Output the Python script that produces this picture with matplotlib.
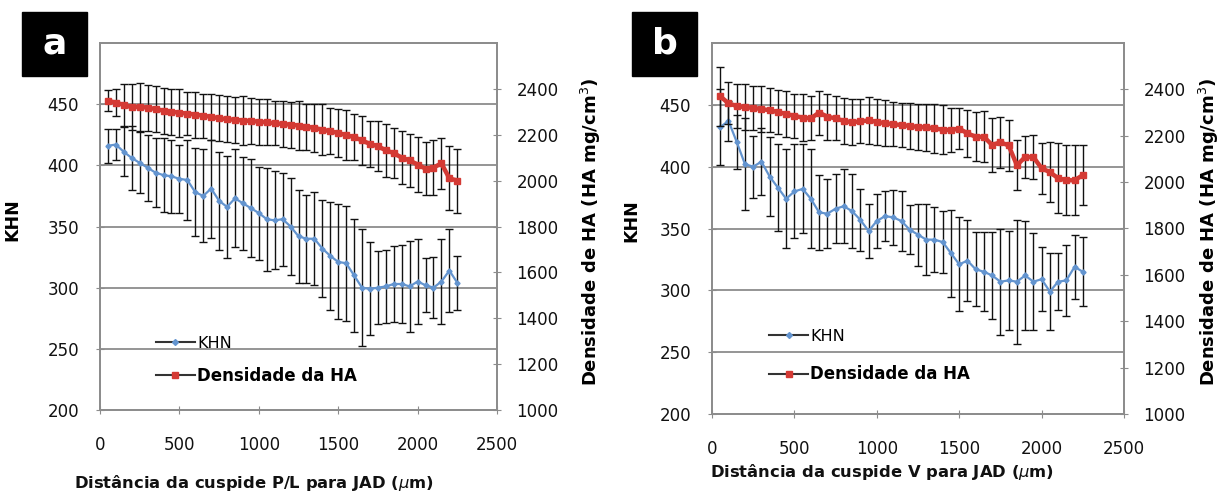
import matplotlib
matplotlib.use("Agg")
import matplotlib.pyplot as plt
from matplotlib.lines import Line2D
from matplotlib.patches import Rectangle

plt.rcParams['font.family'] = ['DejaVu Sans']

# ---------------- data ----------------
dist = [50, 100, 150, 200, 250, 300, 350, 400, 450, 500, 550, 600, 650, 700, 750,
        800, 850, 900, 950, 1000, 1050, 1100, 1150, 1200, 1250, 1300, 1350, 1400,
        1450, 1500, 1550, 1600, 1650, 1700, 1750, 1800, 1850, 1900, 1950, 2000,
        2050, 2100, 2150, 2200, 2250]

khn_a = [416, 417, 411, 406, 402, 398, 394, 392, 391, 389, 388, 378, 375, 381, 371,
         366, 373, 369, 365, 361, 356, 355, 356, 350, 342, 340, 340, 332, 326, 321,
         320, 310, 300, 299, 300, 301, 303, 303, 301, 305, 302, 300, 305, 314, 304]
khn_a_err = [14, 13, 20, 26, 25, 27, 28, 30, 30, 28, 33, 36, 38, 40, 40, 42, 40, 38,
             40, 38, 42, 40, 38, 40, 38, 36, 38, 40, 44, 47, 47, 46, 48, 38, 30, 30,
             31, 32, 37, 35, 22, 25, 35, 34, 22]
dens_a = [2348, 2340, 2330, 2320, 2322, 2318, 2312, 2305, 2300, 2296, 2292, 2288,
          2283, 2278, 2272, 2268, 2265, 2262, 2260, 2257, 2254, 2250, 2247, 2244,
          2240, 2235, 2230, 2222, 2215, 2208, 2198, 2190, 2175, 2160, 2150, 2132,
          2120, 2100, 2088, 2070, 2052, 2057, 2075, 2010, 2000]
dens_a_err = [45, 60, 90, 100, 105, 100, 100, 100, 100, 105, 95, 100, 95, 100, 100,
              100, 100, 105, 100, 100, 100, 95, 100, 100, 105, 100, 105, 110, 100,
              105, 110, 100, 105, 100, 110, 115, 110, 115, 115, 120, 115, 120, 110,
              140, 140]

khn_b = [432, 437, 420, 402, 400, 404, 392, 383, 374, 380, 382, 374, 363, 362, 366,
         368, 364, 357, 348, 356, 360, 359, 356, 349, 345, 341, 341, 339, 330, 321,
         324, 317, 315, 312, 307, 308, 307, 312, 307, 309, 299, 307, 308, 319, 315]
khn_b_err = [31, 16, 22, 37, 25, 27, 32, 35, 40, 38, 36, 40, 30, 28, 28, 30, 30, 25,
             22, 22, 20, 22, 24, 20, 25, 29, 26, 25, 35, 38, 33, 30, 32, 35, 43, 40,
             50, 44, 39, 26, 31, 23, 29, 26, 28]
dens_b = [2370, 2340, 2328, 2323, 2320, 2315, 2310, 2302, 2294, 2286, 2278, 2275,
          2300, 2282, 2275, 2264, 2258, 2262, 2266, 2260, 2254, 2250, 2246, 2242,
          2238, 2236, 2232, 2226, 2224, 2231, 2210, 2196, 2195, 2160, 2172, 2158,
          2073, 2108, 2108, 2060, 2043, 2017, 2008, 2008, 2030]
dens_b_err = [127, 90, 95, 100, 95, 100, 95, 95, 100, 95, 100, 95, 95, 100, 95, 100,
              100, 95, 100, 100, 100, 95, 95, 100, 100, 100, 105, 105, 95, 90, 100,
              105, 110, 115, 110, 110, 107, 90, 95, 110, 130, 150, 150, 150, 130]

x_ticks = [0, 500, 1000, 1500, 2000, 2500]
khn_ticks = [200, 250, 300, 350, 400, 450]
dens_ticks = [1000, 1200, 1400, 1600, 1800, 2000, 2200, 2400]

panels = [
    dict(letter="a", khn=khn_a, khn_err=khn_a_err, dens=dens_a, dens_err=dens_a_err,
         xlabel="Distância da cuspide P/L para JAD ($\\mu$m)"),
    dict(letter="b", khn=khn_b, khn_err=khn_b_err, dens=dens_b, dens_err=dens_b_err,
         xlabel="Distância da cuspide V para JAD ($\\mu$m)"),
]

# ---------------- layout ----------------
W, H = 1228, 492
fig = plt.figure(figsize=(W / 100, H / 100), dpi=100)

def fx(px):
    return px / W

def fy(py):
    return 1 - py / H

# pixel boxes: left, right, top, bottom
boxes = [(100, 497, 43, 410), (712, 1124, 43, 414)]
letter_boxes = [(22, 87, 12, 76), (632, 697, 12, 76)]
ylab_l = [(-0.197, 0.52), (-0.175, 0.52)]
ylab_r = [(1.207, 0.485), (1.177, 0.49)]
xlab_pos = [(254, 483), (882, 472)]
leg_anchor = [(0.125, 0.136), (0.123, 0.156)]
leg_spacing = [0.95, 1.3]

GRID = '#8c8c8c'
BLUE = '#6394cf'
RED = '#d43a34'

for i, p in enumerate(panels):
    l, r, t, b = boxes[i]
    ax = fig.add_axes([fx(l), fy(b), fx(r) - fx(l), fy(t) - fy(b)])
    ax2 = ax.twinx()

    ax.set_xlim(0, 2500)
    ax.set_ylim(200, 500)
    ax2.set_ylim(1000, 2600)
    ax.set_xticks(x_ticks)
    ax.set_yticks(khn_ticks)
    ax2.set_yticks(dens_ticks)

    for yv in khn_ticks[1:]:
        ax.axhline(yv, color=GRID, lw=1.3, zorder=0)

    for a_ in (ax, ax2):
        for s in a_.spines.values():
            s.set_color(GRID)
            s.set_linewidth(1.3)
    ax.tick_params(axis='both', direction='inout', length=6, color=GRID,
                   labelsize=12, labelcolor='#111111')
    ax.tick_params(axis='x', pad=16)
    ax.tick_params(axis='y', pad=12)
    ax2.tick_params(axis='y', direction='inout', length=6, color=GRID,
                    labelsize=12, labelcolor='#111111', pad=11)

    ax.errorbar(dist, p["khn"], yerr=p["khn_err"], color=BLUE, lw=1.6,
                marker='D', markersize=2.6, ecolor='#111111', elinewidth=1.0,
                capsize=2.6, capthick=1.0, zorder=3)
    ax2.errorbar(dist, p["dens"], yerr=p["dens_err"], color=RED, lw=3.2,
                 marker='s', markersize=4, ecolor='#111111', elinewidth=1.0,
                 capsize=2.6, capthick=1.0, zorder=3)

    ax.set_ylabel("KHN", fontsize=12.5, fontweight='bold')
    ax.yaxis.set_label_coords(*ylab_l[i])
    ax2.set_ylabel("Densidade de HA (HA mg/cm$^3$)", fontsize=13, fontweight='bold')
    ax2.yaxis.set_label_coords(*ylab_r[i])

    handles = [
        Line2D([], [], color='#333333', lw=1.5, marker='D', markersize=3,
               markerfacecolor=BLUE, markeredgecolor=BLUE),
        Line2D([], [], color='#333333', lw=1.5, marker='s', markersize=4,
               markerfacecolor=RED, markeredgecolor=RED),
    ]
    leg = ax2.legend(handles, ["KHN", "Densidade da HA"], loc='center left',
                     bbox_to_anchor=leg_anchor[i], frameon=False, fontsize=12,
                     handlelength=2.3, handletextpad=0.15,
                     labelspacing=leg_spacing[i], borderaxespad=0)
    leg.get_texts()[0].set_fontsize(11.5)
    leg.get_texts()[1].set_fontweight('bold')
    leg.get_texts()[1].set_fontsize(12)

    xl, yl = xlab_pos[i]
    fig.text(fx(xl), fy(yl), p["xlabel"], ha='center', va='center',
             fontsize=11.8, fontweight='bold', color='#111111')

    bl, br, bt, bb = letter_boxes[i]
    fig.patches.append(Rectangle((fx(bl), fy(bb)), fx(br) - fx(bl), fy(bt) - fy(bb),
                                 transform=fig.transFigure, color='black', zorder=5))
    fig.text(fx((bl + br) / 2), fy((bt + bb) / 2), p["letter"], ha='center',
             va='center', color='white', fontsize=26, fontweight='bold', zorder=6)

fig.savefig("out.png", dpi=100)
